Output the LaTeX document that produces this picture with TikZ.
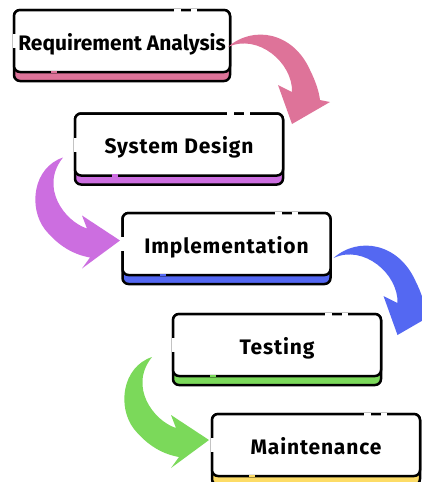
\documentclass[tikz,border=0pt]{standalone}
\usepackage{fontspec}
\setmainfont{Fira Sans}
\newfontfamily\spacedfont[LetterSpace=4]{Fira Sans}
\usetikzlibrary{calc}
\definecolor{reqpink}{HTML}{DE7399}
\definecolor{syspurple}{HTML}{CC6EE0}
\definecolor{impblue}{HTML}{5468F2}
\definecolor{testgreen}{HTML}{7BD95A}
\definecolor{mainyellow}{HTML}{FDDC66}
\tikzset{
  strip/.style={draw, line width=2.5pt, rounded corners=6pt, minimum height=71pt, inner sep=0pt, outer sep=0pt},
  stagebox/.style={draw, fill=white, line width=2.5pt, rounded corners=6pt, minimum height=62pt,
    inner sep=0pt, outer sep=0pt, font=\fontsize{21}{24}\selectfont\spacedfont\bfseries, text height=18pt, text depth=0pt},
  gap/.style={line width=3pt},
}
% stage: name, strip centre, width, colour, text
\newcommand{\stage}[5]{%
  \node[strip, fill=#4, minimum width=#3] (#1s) at (#2) {};
  \node[stagebox, minimum width=#3, anchor=north] (#1) at (#1s.north) {#5};
  \draw[gap, white] ([xshift=-56pt]#1.north east) -- ([xshift=-49pt]#1.north east)
    ([xshift=-39pt]#1.north east) -- ([xshift=-33pt]#1.north east)
    ([yshift=-24pt]#1.north west) -- ([yshift=-38pt]#1.north west);
  \draw[gap, #4, line width=2.6pt] ([xshift=37pt]#1.south west) -- ([xshift=43pt]#1.south west);
}
% curved arrows: colour, start
\newcommand{\rightarc}[2]{%
  \fill[#1, shift={#2}] (0,0) .. controls (25,-22) and (65,-15) .. (82,23)
    .. controls (88,35) and (91,45) .. (92,53) -- (102,55) -- (64,77) -- (50,38) -- (64,45)
    .. controls (65,16) and (30,-14) .. (0,0) -- cycle;}
\newcommand{\leftarc}[2]{%
  \fill[#1, shift={#2}] (0,0) .. controls (-30,10) and (-35,50) .. (-18,72)
    .. controls (-5,88) and (10,97) .. (27,100) -- (19,111) -- (57,83) -- (19,58) -- (24,71)
    .. controls (2,64) and (-24,30) .. (0,0) -- cycle;}
\begin{document}
\begin{tikzpicture}[x=1pt,y=-1pt]
\useasboundingbox (0,0) rectangle (422,482);
\stage{req}{122,45.5}{216}{reqpink}{\rmfamily\bfseries Requirement Analysis}
\stage{sys}{179,149}{208}{syspurple}{System Design}
\stage{imp}{226.5,248.5}{208}{impblue}{Implementation}
\stage{test}{277,349.5}{208}{testgreen}{Testing}
\stage{main}{316,449.5}{208}{mainyellow}{Maintenance}
\rightarc{reqpink}{($(req.east)+(-2,6)$)}
\leftarc{syspurple}{($(sys.west)+(-12,13)$)}
\rightarc{impblue}{($(imp.east)+(3,14)$)}
\leftarc{testgreen}{($(test.west)+(-21,12)$)}
\end{tikzpicture}
\end{document}
